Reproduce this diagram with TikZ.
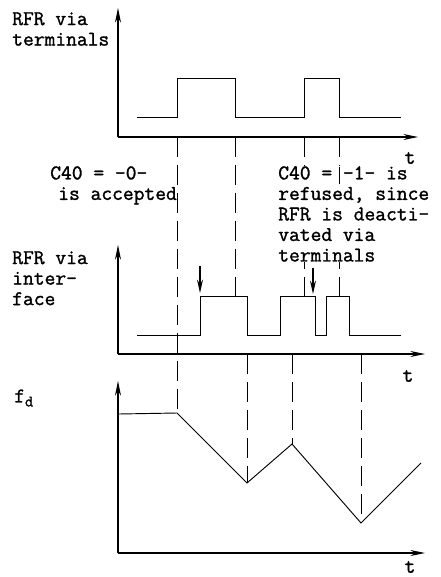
\documentclass[tikz,border=0pt]{standalone}
\usepackage{fontspec}
\newfontfamily\plotfont{Latin Modern Mono}[FakeBold=1.3]
\usetikzlibrary{arrows.meta,positioning}

\begin{document}
\begin{tikzpicture}[
    x=0.75pt, y=-0.75pt,
    >={Stealth[length=11pt,width=4.5pt]},
    every node/.style={font=\plotfont\fontsize{15.7}{15.4}\selectfont, inner sep=0pt},
    ax/.style={->, line width=0.8pt},
    sig/.style={line width=0.7pt},
    guide/.style={line width=0.6pt, dash pattern=on 15pt off 6pt},
    txt/.style={anchor=north west, align=left, fill=white},
    hint/.style={->, line width=1pt, >={Stealth[length=10pt,width=4.5pt]}},
  ]
    \useasboundingbox (0,0) rectangle (440,577);

    % --- Guides between the plots ---
    \draw[guide] (177,137) -- (177,413);
    \draw[guide] (235,137) -- (235,296);
    \draw[guide] (304,137) -- (304,296);
    \draw[guide] (339,137) -- (339,296);
    \draw[guide] (247,354) -- (247,483);
    \draw[guide] (292,354) -- (292,444);
    \draw[guide] (361,354) -- (361,523);

    % --- RFR via terminals ---
    \draw[ax] (118,137) -- (118,8);
    \draw[ax] (118,137) -- (418,137);
    \draw[sig] (137,117) -- (177,117) -- (177,78) -- (235,78) -- (235,117)
               -- (304,117) -- (304,78) -- (339,78) -- (339,117) -- (401,117);
    \node[txt]  (term)  at (12,12)  {RFR via\\terminals};
    \node       (t1)    at (410,158) {t};

    % --- Notes ---
    \node[txt]  (acc)   at (50,166)  {C40 = -0-\\\hspace*{6pt}is accepted};
    \node[txt]  (ref)   at (278,166) {C40 = -1- is\\refused, since\\RFR is deacti-\\vated via\\terminals};
    \draw[sig] (339,167) -- (339,184);

    % --- RFR via interface ---
    \draw[ax] (118,354) -- (118,245);
    \draw[ax] (118,354) -- (425,354);
    \draw[sig] (137,335) -- (200,335) -- (200,296) -- (247,296) -- (247,335)
               -- (280,335) -- (280,296) -- (315,296) -- (315,335)
               -- (326,335) -- (326,296) -- (349,296) -- (349,335) -- (401,335);
    \draw[hint] (200,266) -- (200,293);
    \draw[hint] (313,268) -- (313,294);
    \node[txt]  (intf)  at (12,251) {RFR via\\inter-\\face};
    \node       (t2)    at (408,376) {t};

    % --- f_d ---
    \draw[ax] (118,553) -- (118,381);
    \draw[ax] (118,553) -- (425,553);
    \draw[sig] (119,414) -- (177,413) -- (247,483) -- (292,444) -- (361,523) -- (421,463);
    \node[anchor=west] (fd) at (14,398) {f\raisebox{-3pt}{\fontsize{12}{12}\selectfont d}};
    \node       (t3)    at (410,567) {t};
\end{tikzpicture}
\end{document}
